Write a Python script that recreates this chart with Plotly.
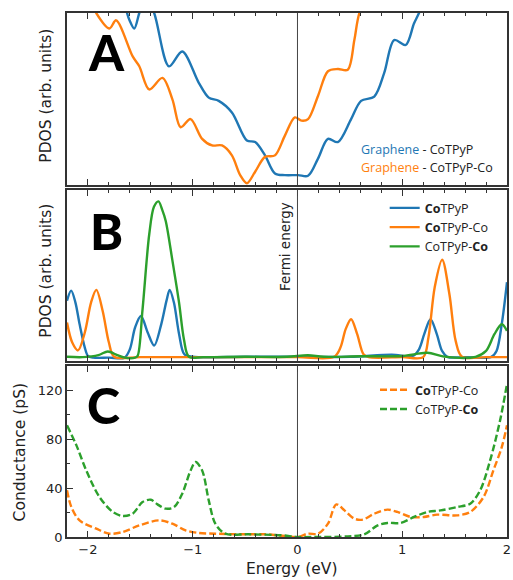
import plotly.graph_objects as go

# ---------------- Data ----------------
# Panel A: Graphene PDOS (arb. units)
a_blue_E = [-2.2, -1.9, -1.65, -1.605, -1.558, -1.51, -1.45, -1.368, -1.226, -1.10, -0.942, -0.847,
            -0.752, -0.626, -0.483, -0.404, -0.310, -0.215, -0.120, 0.006, 0.101, 0.196, 0.291,
            0.385, 0.512, 0.607, 0.733, 0.828, 0.923, 1.033, 1.112, 1.16, 1.3, 1.6, 2.0]
a_blue_y = [160, 130, 104, 96, 90.9, 100, 110, 100, 68.7, 77.4, 59.0, 50.3,
            48.4, 41.6, 25.1, 24.2, 16.4, 5.8, 4.8, 4.8, 4.4, 14.5, 26.1,
            24.2, 37.7, 48.4, 50.9, 64.8, 84.1, 81.2, 93.8, 100, 120, 150, 180]
a_orange_E = [-2.2, -2.05, -1.921, -1.795, -1.731, -1.573, -1.510, -1.415, -1.289, -1.194, -1.115,
              -1.021, -0.910, -0.815, -0.720, -0.626, -0.547, -0.483, -0.404, -0.310, -0.215,
              -0.120, -0.025, 0.038, 0.101, 0.196, 0.291, 0.385, 0.480, 0.543, 0.591, 0.8, 1.2, 2.0]
a_orange_y = [140, 118, 100, 90.9, 95.7, 74.5, 68.7, 55.1, 61.9, 49.3, 32.9,
              37.7, 26.1, 22.2, 22.2, 16.4, 4.8, 0.0, 6.8, 15.5, 16.4,
              28.0, 38.7, 36.8, 37.7, 51.3, 65.8, 67.1, 66.7, 84.1, 100, 130, 160, 200]

# Panel B: molecular PDOS (arb. units)
b_blue_E = [-2.2, -2.16, -2.12, -2.08, -2.03, -2.0, -1.95, -1.8, -1.65, -1.60, -1.55, -1.494, -1.43,
            -1.368, -1.30, -1.25, -1.22, -1.18, -1.13, -1.08, -1.0, -0.5, 0.0, 0.5, 0.9, 1.1,
            1.16, 1.21, 1.27, 1.33, 1.38, 1.43, 1.6, 1.85, 1.9, 1.95, 2.0]
b_blue_y = [34, 40, 33, 20, 6, 1, 0, 0, 0, 5, 18, 24.8, 15,
            7.2, 20, 34, 40.4, 33, 14, 2, 0.5, 0.5, 0.5, 0.5, 1.8, 1.0,
            5, 14, 22.9, 14, 4, 0.5, 0.3, 0.5, 4, 20, 45]
b_orange_E = [-2.2, -2.15, -2.095, -2.03, -1.97, -1.92, -1.86, -1.80, -1.75, -1.5, -1.0, -0.5, 0.0,
              0.35, 0.41, 0.46, 0.512, 0.57, 0.63, 0.68, 1.0, 1.2, 1.25, 1.31, 1.381, 1.45,
              1.51, 1.57, 1.8, 2.0]
b_orange_y = [20.9, 9, 4.3, 15, 33, 40.4, 28, 9, 0.5, 0.3, 0.3, 0.3, 0.3,
              0.5, 6, 17, 22.9, 14, 2, 0.3, 0.3, 0.3, 12, 42, 58.4, 38,
              10, 0.5, 0.3, 0.3]
b_green_E = [-2.2, -2.05, -1.9, -1.81, -1.72, -1.65, -1.55, -1.526, -1.479, -1.415, -1.37, -1.327,
             -1.29, -1.257, -1.194, -1.13, -1.084, -1.036, -0.9, -0.5, -0.1, 0.1, 0.25,
             0.6, 1.0, 1.24, 1.4, 1.7, 1.8, 1.88, 1.95, 2.0]
b_green_y = [0.5, 0.3, 1.5, 3.7, 1.5, 0.0, 0.0, 1, 28.7, 73.6, 90, 93.2,
             88, 81.4, 58, 32.6, 11, 0.5, 0.3, 0.5, 0.5, 1.4, 0.5,
             0.8, 1.0, 2.9, 0.6, 0.5, 4, 14, 19.9, 16]

# Panel C: conductance (pS)
c_orange_E = [-2.2, -2.158, -2.08, -1.92, -1.795, -1.668, -1.51, -1.32, -1.194, -1.068, -0.942,
              -0.784, -0.562, -0.31, -0.12, 0.0, 0.1, 0.196, 0.291, 0.37, 0.449, 0.543, 0.622,
              0.733, 0.859, 0.954, 1.08, 1.207, 1.333, 1.522, 1.649, 1.776, 1.87, 1.95, 2.0]
c_orange_y = [38.2, 24.5, 13.6, 6.8, 2.7, 4.1, 9.5, 13.6, 10.9, 5.5, 3.3,
              2.7, 2.2, 2.2, 0.8, 0.0, 2.7, 2.7, 10.9, 26.7, 21.8, 15.0, 14.2,
              19.1, 22.4, 20.5, 16.4, 16.4, 18.3, 17.7, 20.5, 32.7, 54.5, 73.6, 91.4]
c_green_E = [-2.2, -2.11, -2.016, -1.89, -1.763, -1.668, -1.573, -1.479, -1.40, -1.336, -1.257,
             -1.178, -1.10, -1.02, -0.973, -0.91, -0.847, -0.784, -0.689, -0.468, -0.152, 0.0,
             0.164, 0.48, 0.638, 0.765, 0.859, 0.986, 1.112, 1.24, 1.365, 1.522, 1.649, 1.744,
             1.839, 1.934, 2.0]
c_green_y = [91.4, 75.0, 54.5, 32.7, 20.5, 17.2, 19.1, 28.6, 30.5, 26.7, 23.2,
             24.5, 35.5, 54.5, 61.4, 54.5, 30.0, 10.9, 2.7, 2.2, 1.4, 0.0,
             0.0, 0.5, 2.2, 9.5, 11.5, 11.5, 16.4, 20.5, 21.8, 24.5, 27.3, 38.2,
             62.7, 95.5, 125.4]

x_ticks = [-2, -1, 0, 1, 2]
c_yticks = [0, 40, 80, 120]

# ---------------- Style ----------------
BLUE, ORANGE, GREEN = "#1f77b4", "#ff7f0e", "#2ca02c"
AX = "#333333"
TXT = "#222222"
FONT = "DejaVu Sans"
LFONT = "Open Sans"

fig = go.Figure()

def add(x, y, color, name, xa, ya, legend=None, dash=None, show=False):
    fig.add_trace(go.Scatter(
        x=x, y=y, mode="lines", name=name,
        line=dict(color=color, width=2.4, shape="spline", smoothing=0.9,
                  dash=dash if dash else "solid"),
        xaxis=xa, yaxis=ya, showlegend=show, legend=legend,
    ))

# Panel A (x/y)
add(a_blue_E, a_blue_y, BLUE, "Graphene - CoTPyP", "x", "y")
add(a_orange_E, a_orange_y, ORANGE, "Graphene - CoTPyP-Co", "x", "y")
# Panel B (x2/y2)
add(b_blue_E, b_blue_y, BLUE, "<b>Co</b>TPyP", "x2", "y2", "legend", show=True)
add(b_orange_E, b_orange_y, ORANGE, "<b>Co</b>TPyP-Co", "x2", "y2", "legend", show=True)
add(b_green_E, b_green_y, GREEN, "CoTPyP-<b>Co</b>", "x2", "y2", "legend", show=True)
# Panel C (x3/y3)
add(c_orange_E, c_orange_y, ORANGE, "<b>Co</b>TPyP-Co", "x3", "y3", "legend2", dash="7px,3px", show=True)
add(c_green_E, c_green_y, GREEN, "CoTPyP-<b>Co</b>", "x3", "y3", "legend2", dash="7px,3px", show=True)

# plot area: left 67, right 511, top 13, bottom 537 (in a 513x580 canvas)
dom_a = [0.6718, 1.0]
dom_b = [0.3359, 0.6622]
dom_c = [0.0, 0.3263]

def xaxis(show_labels, anchor):
    return dict(
        range=[-2.2, 2.0], tickvals=x_ticks, ticks="inside", ticklen=6, tickwidth=1.2,
        tickcolor=AX, showticklabels=show_labels, showline=True, linecolor=AX, linewidth=1.5,
        mirror="ticks", showgrid=False, zeroline=False, anchor=anchor, domain=[0, 1],
        minor=dict(dtick=0.2, ticks="inside", ticklen=3, tickcolor=AX, showgrid=False),
        tickfont=dict(family=FONT, size=13, color=TXT), ticklabeloverflow="allow",
    )

def yaxis(rng, dom, show_labels=False):
    d = dict(range=rng, domain=dom, showline=True, linecolor=AX, linewidth=1.5, mirror=True,
             showgrid=False, zeroline=False, showticklabels=show_labels, ticks="")
    if show_labels:
        d.update(tickvals=c_yticks, ticks="inside", ticklen=6, tickcolor=AX,
                 minor=dict(dtick=20, ticks="inside", ticklen=3, tickcolor=AX, showgrid=False),
                 tickfont=dict(family=FONT, size=13, color=TXT))
    return d

fig.update_layout(
    width=513, height=580,
    margin=dict(l=67, r=2, t=13, b=43),
    paper_bgcolor="white", plot_bgcolor="white",
    xaxis=xaxis(False, "y"),
    xaxis2=xaxis(False, "y2"),
    xaxis3=xaxis(True, "y3"),
    yaxis=yaxis([-1, 100], dom_a),
    yaxis2=yaxis([-2, 100], dom_b),
    yaxis3=yaxis([0, 140], dom_c, True),
    legend=dict(x=0.722, y=0.656, xanchor="left", yanchor="top", bgcolor="rgba(0,0,0,0)",
                font=dict(family=LFONT, size=12.5, color=TXT), tracegroupgap=0),
    legend2=dict(x=0.70, y=0.309, xanchor="left", yanchor="top", bgcolor="rgba(0,0,0,0)",
                 font=dict(family=LFONT, size=12.5, color=TXT), tracegroupgap=0),
    showlegend=True,
)

# Fermi level lines
for ya in ["y", "y2", "y3"]:
    fig.add_shape(type="line", xref="x", yref=f"{ya} domain", x0=0, x1=0, y0=0, y1=1,
                  line=dict(color="#444444", width=1))

def ann(text, x, y, size, angle=0, family=FONT, xanchor="center", weight=None, color=TXT):
    fnt = dict(family=family, size=size, color=color)
    if weight:
        fnt["weight"] = weight
    fig.add_annotation(text=text, xref="paper", yref="paper", x=x, y=y, showarrow=False,
                       textangle=angle, font=fnt, xanchor=xanchor, yanchor="middle")

def px_x(p):
    return (p - 67) / 444.0

def px_y(p):
    return (537 - p) / 524.0

# panel letters
ann("A", px_x(107), px_y(52), 50, family="Lato", weight=900, color="black")
ann("B", px_x(107), px_y(231), 50, family="Lato", weight=900, color="black")
ann("C", px_x(104), px_y(405), 50, family="Lato", weight=900, color="black")

# axis titles
ann("PDOS (arb. units)", px_x(45.5), px_y(96), 15.5, angle=-90)
ann("PDOS (arb. units)", px_x(45.5), px_y(271), 15.5, angle=-90)
ann("Conductance (pS)", px_x(20), px_y(452), 15.5, angle=-90)
ann("Energy (eV)", px_x(294), px_y(569), 15.5)
ann("Fermi energy", px_x(287), px_y(247), 13.5, angle=-90)

# panel A legend (coloured text only)
ann(f"<span style='color:{BLUE}'>Graphene</span> - CoTPyP", px_x(362), px_y(150), 12.5,
    family=LFONT, xanchor="left")
ann(f"<span style='color:{ORANGE}'>Graphene</span> - CoTPyP-Co", px_x(362), px_y(168), 12.5,
    family=LFONT, xanchor="left")

fig.write_html("out.html", config={"displayModeBar": False},
               post_script="document.body.style.margin='0';")
